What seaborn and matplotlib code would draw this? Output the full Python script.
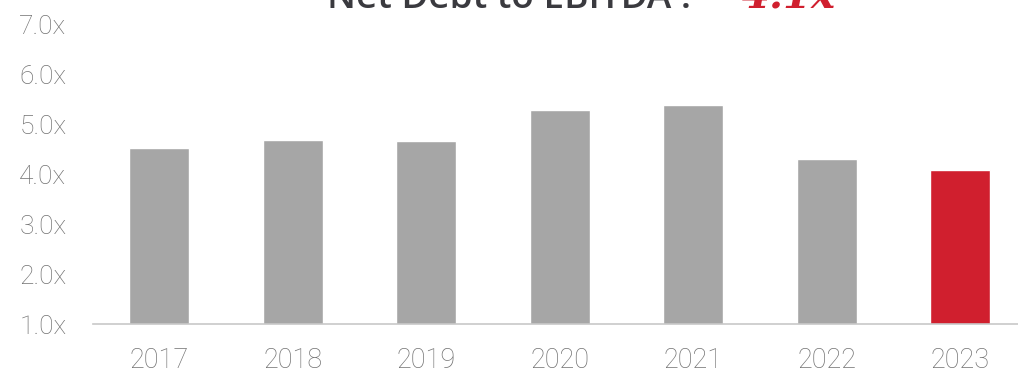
import matplotlib
matplotlib.use("Agg")
import matplotlib.pyplot as plt
import seaborn as sns
import pandas as pd

# Net debt to EBITDA by fiscal year
years = ["2017", "2018", "2019", "2020", "2021", "2022", "2023"]
leverage = [4.54, 4.70, 4.67, 5.30, 5.40, 4.32, 4.10]
highlight = [False, False, False, False, False, False, True]
y_ticks = [1.0, 2.0, 3.0, 4.0, 5.0, 6.0, 7.0]
title_main = "Net Debt to EBITDA :"
title_value = "4.1x"

GREY = "#A6A6A6"
RED = "#D01F2E"
TICK = "#727272"

sns.set_theme(style="white")
plt.rcParams["font.family"] = ["Roboto", "DejaVu Sans"]

df = pd.DataFrame({"year": years, "value": leverage, "hl": highlight})

W, H = 1018, 373
fig = plt.figure(figsize=(W / 100, H / 100), dpi=100)
ax = fig.add_axes([92.7 / W, 49 / H, (1026.75 - 92.7) / W, 299 / H])

sns.barplot(data=df, x="year", y="value", hue="hl",
            palette={False: GREY, True: RED}, width=0.45,
            legend=False, ax=ax, saturation=1)

ax.set_ylim(1.0, 7.0)
ax.set_xlim(-0.5, len(years) - 0.5)
ax.set_yticks(y_ticks)
ax.set_yticklabels([f"{v:.1f}x" for v in y_ticks])
ax.set_xlabel("")
ax.set_ylabel("")

for s in ["top", "right", "left"]:
    ax.spines[s].set_visible(False)
ax.spines["bottom"].set_color("#C8C8C8")
ax.spines["bottom"].set_linewidth(1.2)

ax.tick_params(axis="y", length=0, pad=19, labelsize=19, labelcolor=TICK)
ax.tick_params(axis="x", length=0, pad=16.5, labelsize=19.5, labelcolor=TICK)
for lab in ax.get_xticklabels() + ax.get_yticklabels():
    lab.set_fontweight("light")

# Title with the current value set in red
fig.text(327 / W, 1 - 7.5 / H, title_main, ha="left", va="baseline",
         fontsize=26.6, color="#3A3A3F", fontweight=600,
         family=["Open Sans", "DejaVu Sans"])
fig.text(742 / W, 1 - 7.5 / H, title_value, ha="left", va="baseline",
         fontsize=29, color=RED, fontweight="bold", fontstyle="italic",
         family=["DejaVu Serif"])

fig.savefig("out.png", dpi=100)
